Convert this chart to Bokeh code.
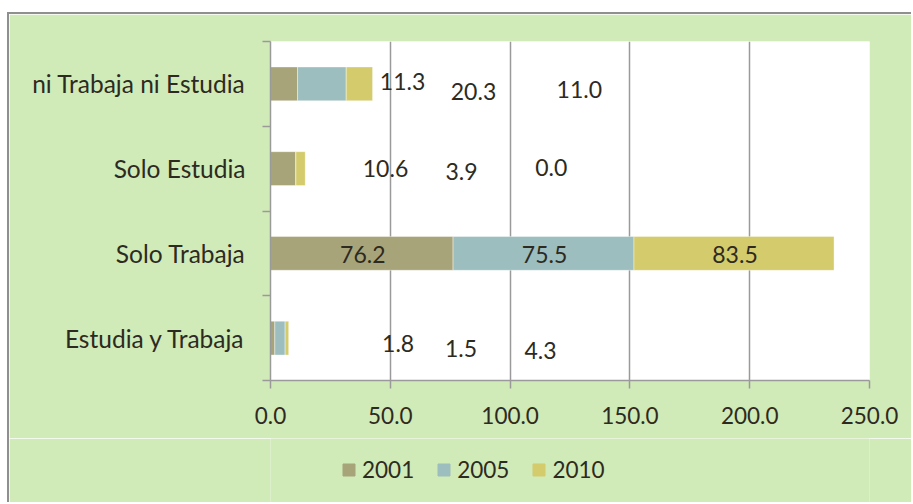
import numpy as np
from bokeh.plotting import figure
from bokeh.layouts import column
from bokeh.models import (FactorRange, Range1d, LinearAxis, CategoricalAxis, FixedTicker,
                          NumeralTickFormatter, ColumnDataSource, Legend, LegendItem)
from bokeh.core.properties import value
from bokeh.embed import file_html
from bokeh.resources import INLINE

# ---- data ----
categories = ["Estudia y Trabaja", "Solo Trabaja", "Solo Estudia", "ni Trabaja ni Estudia"]
years = ["2001", "2005", "2010"]
v2001 = [1.8, 76.2, 10.6, 11.3]
v2005 = [4.3, 75.5, 0.0, 20.3]
v2010 = [1.5, 83.5, 3.9, 11.0]
x_ticks = [0, 50, 100, 150, 200, 250]

# ---- styles ----
FONT = "Lato"
TXT = "#2d2a22"
BG = "#D0EAB8"
GRID = "#9a9a9a"
FRAME = "2px solid #8f8f8f"
COLORS = ["#A8A47A", "#9DBEBE", "#D3CB6C"]
# pixel offsets of the data labels (as placed in the original), per year, per category
LABEL_OFFSETS = {
    "2001": ([125.5, 1, 102.3, 118.5], [5.0, 1, 0.3, -2.8]),
    "2005": ([260.5, 1, 255.3, 151.6], [12.1, 1, -1.2, 7.5]),
    "2010": ([174.1, 1, 160.9, 219.9], [10.0, 1, 2.6, 6.0]),
}

series = {"2001": v2001, "2005": v2005, "2010": v2010}
source = ColumnDataSource(dict(cat=categories, **series))

p = figure(y_range=FactorRange(factors=categories), x_range=Range1d(0, 250),
           width=904, height=426, output_backend="svg", toolbar_location=None,
           y_axis_location=None, x_axis_location="below",
           min_border_left=261, min_border_right=44, min_border_top=27, min_border_bottom=60)
p.margin = (12, 0, 0, 7)
p.styles = {"border-top": FRAME, "border-left": FRAME}
p.border_fill_color = BG
p.background_fill_color = "white"
p.outline_line_color = None
p.ygrid.visible = False

# x axis
xa = p.xaxis[0]
xa.ticker = FixedTicker(ticks=x_ticks)
xa.formatter = NumeralTickFormatter(format="0.0")
xa.major_tick_out = 8
xa.major_tick_in = 0
xa.minor_tick_out = 0
xa.minor_tick_in = 0
xa.axis_line_color = GRID
xa.major_tick_line_color = GRID
xa.axis_line_width = 1.5
xa.major_tick_line_width = 1.5
xa.major_label_text_font = FONT
xa.major_label_text_font_size = "22.5px"
xa.major_label_text_color = TXT
xa.major_label_standoff = 18

p.xgrid.ticker = FixedTicker(ticks=x_ticks)
p.xgrid.grid_line_color = GRID
p.xgrid.grid_line_width = 1.5

# y axes: boundary ticks (between categories) + category labels
ya_ticks = LinearAxis(ticker=FixedTicker(ticks=[0, 1, 2, 3, 4]),
                      major_label_text_font_size="0px",
                      major_label_overrides={0: "", 1: "", 2: "", 3: "", 4: ""},
                      major_tick_out=8, major_tick_in=0, minor_tick_out=0, minor_tick_in=0,
                      axis_line_color=GRID, major_tick_line_color=GRID,
                      axis_line_width=1.5, major_tick_line_width=1.5,
                      major_label_standoff=0)
p.add_layout(ya_ticks, "left")
ya_cat = CategoricalAxis(axis_line_color=None, major_tick_line_color=None,
                         major_tick_out=0, major_tick_in=0,
                         major_label_text_font=FONT, major_label_text_font_size="24.5px",
                         major_label_text_color=TXT, major_label_standoff=17)
p.add_layout(ya_cat, "left")

# bars
renderers = p.hbar_stack(years, y="cat", height=0.4, color=COLORS, source=source,
                         line_color="white", line_alpha=0.4, line_width=1)

# data labels
left = np.zeros(len(categories))
for yr in years:
    vals = np.array(series[yr])
    centers = left + vals / 2
    left = left + vals
    dx, dy = LABEL_OFFSETS[yr]
    lsrc = ColumnDataSource(dict(x=centers, y=categories, text=[f"{v:.1f}" for v in vals],
                                 dx=dx, dy=dy))
    p.text(x="x", y="y", text="text", x_offset="dx", y_offset="dy", source=lsrc,
           text_align="center", text_baseline="middle", text_font=value(FONT),
           text_font_size="23px", text_color=TXT)

# legend strip below the chart (swatch renderers lie outside its visible ranges)
pl = figure(width=904, height=64, output_backend="svg", toolbar_location=None,
            x_axis_location=None, y_axis_location=None, min_border=0,
            x_range=Range1d(1, 2), y_range=Range1d(1, 2))
pl.margin = (0, 0, 0, 7)
pl.styles = {"border-left": FRAME}
pl.border_fill_color = BG
pl.background_fill_color = BG
pl.outline_line_color = None
pl.grid.visible = False
swatches = [pl.hbar(y=[0], right=[0], height=0.4, color=c) for c in COLORS]
legend = Legend(items=[LegendItem(label=yr, renderers=[r]) for yr, r in zip(years, swatches)],
                orientation="horizontal", location=(71, 19),
                glyph_width=15, glyph_height=15, label_standoff=6, spacing=22,
                padding=0, margin=0, background_fill_alpha=0, border_line_color=None,
                label_text_font=FONT, label_text_font_size="22.5px", label_text_color=TXT,
                label_height=15)
pl.add_layout(legend, "center")

layout = column(p, pl, spacing=0)
open("out.html", "w").write(file_html(layout, INLINE))
